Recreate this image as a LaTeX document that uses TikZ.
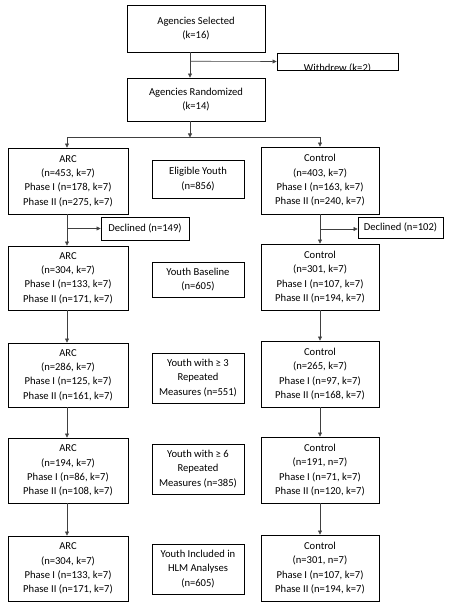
\documentclass[tikz,border=0pt]{standalone}
\usepackage{fontspec}
\setmainfont{Carlito}
\usetikzlibrary{arrows.meta,calc}
\begin{document}
\begin{tikzpicture}[x=1pt,y=-1pt,
  every node/.style={font=\fontsize{10.6}{14.3}\selectfont, inner sep=0pt},
  box/.style={draw=black, line width=0.9pt, align=center, fill=white},
  arcbox/.style={box, minimum width=120pt},
  ctlbox/.style={box, minimum width=118pt},
  midbox/.style={box, minimum width=92pt},
  conn/.style={draw=black!75, line width=0.6pt},
  arr/.style={conn, -{Triangle[length=4pt,width=4pt]}}]
\useasboundingbox (0,0) rectangle (451,610);
% top
\node[box, minimum width=138pt, minimum height=47pt] (sel) at (196,28.5) {Agencies Selected\\(k=16)};
\node[box, minimum width=138pt, minimum height=43pt] (rand) at (196,99.5) {Agencies Randomized\\(k=14)};
\node[box, minimum width=121pt, minimum height=17pt,
  path picture={\node at ([yshift=-6.5pt]path picture bounding box.center) {Withdrew (k=2)};}] (withd) at (337.5,61.5) {};
% row 1
\node[arcbox, minimum height=66pt] (arc1) at (68,181) {ARC\\(n=453, k=7)\\Phase I (n=178, k=7)\\Phase II (n=275, k=7)};
\node[midbox, minimum height=38pt] (mid1) at (198,179) {Eligible Youth\\(n=856)};
\node[ctlbox, minimum height=67pt] (ctl1) at (320,180.5) {Control\\(n=403, k=7)\\Phase I (n=163, k=7)\\Phase II (n=240, k=7)};
\node[box, minimum width=88pt, minimum height=23pt] (dec1) at (145,228.5) {Declined (n=149)};
\node[box, minimum width=85pt, minimum height=21pt] (dec2) at (400.5,227.5) {Declined (n=102)};
% row 2
\node[arcbox, minimum height=64pt] (arc2) at (68,278) {ARC\\(n=304, k=7)\\Phase I (n=133, k=7)\\Phase II (n=171, k=7)};
\node[midbox, minimum height=35pt] (mid2) at (198,279.5) {Youth Baseline\\(n=605)};
\node[ctlbox, minimum height=66pt] (ctl2) at (320,277) {Control\\(n=301, k=7)\\Phase I (n=107, k=7)\\Phase II (n=194, k=7)};
% row 3
\node[arcbox, minimum height=64pt] (arc3) at (68,375) {ARC\\(n=286, k=7)\\Phase I (n=125, k=7)\\Phase II (n=161, k=7)};
\node[midbox, minimum height=50pt] (mid3) at (198,378) {Youth with ≥ 3\\Repeated\\Measures (n=551)};
\node[ctlbox, minimum height=66pt] (ctl3) at (320,374) {Control\\(n=265, k=7)\\Phase I (n=97, k=7)\\Phase II (n=168, k=7)};
% row 4
\node[arcbox, minimum height=65pt] (arc4) at (68,470.5) {ARC\\(n=194, k=7)\\Phase I (n=86, k=7)\\Phase II (n=108, k=7)};
\node[midbox, minimum height=50pt] (mid4) at (198,469) {Youth with ≥ 6\\Repeated\\Measures (n=385)};
\node[ctlbox, minimum height=66pt] (ctl4) at (320,470) {Control\\(n=191, n=7)\\Phase I (n=71, k=7)\\Phase II (n=120, k=7)};
% row 5
\node[arcbox, minimum height=65pt] (arc5) at (68,568.5) {ARC\\(n=304, k=7)\\Phase I (n=133, k=7)\\Phase II (n=171, k=7)};
\node[midbox, minimum height=50pt] (mid5) at (198,569) {Youth Included in\\HLM Analyses\\(n=605)};
\node[ctlbox, minimum height=66pt] (ctl5) at (320,568) {Control\\(n=301, n=7)\\Phase I (n=107, k=7)\\Phase II (n=194, k=7)};
% connectors top
\coordinate (s1) at ($(sel.south)+(-6,0)$);
\coordinate (r1) at ($(rand.north)+(-6,0)$);
\draw[arr] (s1) -- (r1);
\draw[arr] ($(s1)!0.35!(r1)$) -- (withd.west);
\coordinate (r2) at ($(rand.south)+(-6,0)$);
\coordinate (split) at ($(r2)+(0,16)$);
\draw[arr] (r2) -- (split);
\coordinate (la) at ($(arc1.north)+(-1,0)$);
\coordinate (lc) at (ctl1.north);
\draw[conn] (la |- split) -- (lc |- split);
\draw[arr] (la |- split) -- (la);
\draw[arr] (lc |- split) -- (lc);
% column arrows
\foreach \a/\b in {arc1/arc2,arc2/arc3,arc3/arc4,arc4/arc5}{
  \draw[arr] ($(\a.south)+(-1,0)$) -- ($(\b.north)+(-1,0)$);}
\foreach \a/\b in {ctl1/ctl2,ctl2/ctl3,ctl3/ctl4,ctl4/ctl5}{
  \draw[arr] (\a.south) -- (\b.north);}
\coordinate (d1) at ($(arc1.south)+(-1,0)$);
\draw[arr] (d1 |- dec1.west) -- (dec1.west);
\draw[arr] (ctl1.south |- 0,229) -- (dec2.west |- 0,229);
\end{tikzpicture}
\end{document}
